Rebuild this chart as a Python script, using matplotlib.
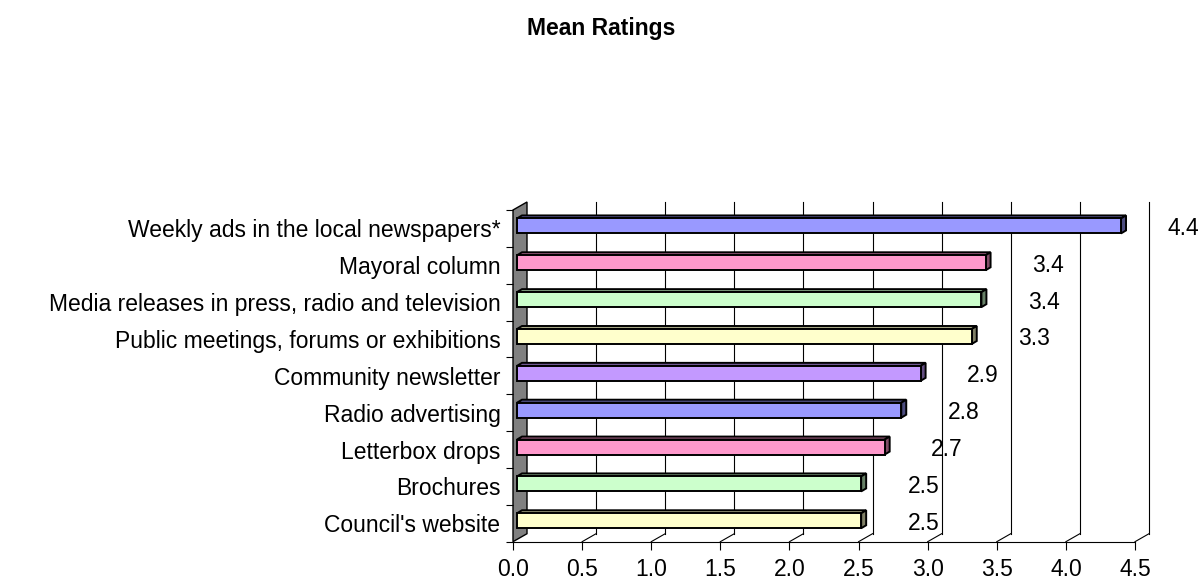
import matplotlib
matplotlib.use("Agg")
import matplotlib.pyplot as plt
from matplotlib.patches import Polygon
import numpy as np

plt.rcParams['font.family'] = ['Liberation Sans', 'DejaVu Sans']

title = "Mean Ratings"
categories = [
    "Weekly ads in the local newspapers*",
    "Mayoral column",
    "Media releases in press, radio and television",
    "Public meetings, forums or exhibitions",
    "Community newsletter",
    "Radio advertising",
    "Letterbox drops",
    "Brochures",
    "Council's website",
]
values = [4.37, 3.39, 3.36, 3.29, 2.92, 2.78, 2.66, 2.49, 2.49]
bar_colors = ["#9999FF", "#FF99CC", "#CCFFCC", "#FFFFCC", "#C399FF",
              "#9999FF", "#FF99CC", "#CCFFCC", "#FFFFCC"]
xticks = [0.0, 0.5, 1.0, 1.5, 2.0, 2.5, 3.0, 3.5, 4.0, 4.5]

W, H = 1203, 581
fig = plt.figure(figsize=(W / 100, H / 100), dpi=100)
FS = 16.5

# front plane in pixels
x0p, x1p = 513, 1135
ybot, ytop = 541.7, 210
ax = fig.add_axes([x0p / W, (H - ybot) / H, (x1p - x0p) / W, (ybot - ytop) / H])
n = len(categories)
ax.set_xlim(0, 4.5)
ax.set_ylim(0, n)

pxu = (x1p - x0p) / 4.5
pyu = (ybot - ytop) / n
# depth offsets (data units)
dx, dy = 14 / pxu, 8 / pyu
ox, oy = 4 / pxu, 2.5 / pyu
bx, by = 5 / pxu, 3 / pyu
bh = 15 / pyu


def shade(c, f):
    r, g, b = matplotlib.colors.to_rgb(c)
    return (r * f, g * f, b * f)


# side wall
ax.add_patch(Polygon([(0, 0), (0, n), (dx, n + dy), (dx, dy)], closed=True,
                     facecolor="#808080", edgecolor="black", lw=1.0,
                     clip_on=False, zorder=1))
# back gridlines and floor slants
for xt in xticks[1:]:
    ax.plot([xt + dx, xt + dx], [dy, n + dy], color="black", lw=0.8,
            clip_on=False, zorder=1)
    ax.plot([xt, xt + dx], [0, dy], color="black", lw=0.8,
            clip_on=False, zorder=1)

# bars
for i, (v, c) in enumerate(zip(values, bar_colors)):
    yc = n - (i + 0.5)
    b = yc - bh / 2 + oy
    t = yc + bh / 2 + oy
    L = ox
    R = ox + v
    front = Polygon([(L, b), (R, b), (R, t), (L, t)], closed=True,
                    facecolor=c, edgecolor="black", lw=1.4, clip_on=False,
                    zorder=3, joinstyle="miter")
    top = Polygon([(L, t), (R, t), (R + bx, t + by), (L + bx, t + by)],
                  closed=True, facecolor=shade(c, 0.65), edgecolor="black",
                  lw=1.4, clip_on=False, zorder=2, joinstyle="miter")
    side = Polygon([(R, b), (R + bx, b + by), (R + bx, t + by), (R, t)],
                   closed=True, facecolor=shade(c, 0.5), edgecolor="black",
                   lw=1.4, clip_on=False, zorder=2, joinstyle="miter")
    ax.add_patch(top)
    ax.add_patch(side)
    ax.add_patch(front)
    ax.text(R + 0.45, yc, f"{v:.1f}", ha="center", va="center",
            fontsize=FS, color="black", zorder=4)

# axes styling
for s in ("top", "right", "left"):
    ax.spines[s].set_visible(False)
ax.spines["bottom"].set_linewidth(0.8)
ax.set_xticks(xticks)
ax.set_xticklabels([f"{x:.1f}" for x in xticks], fontsize=FS)
ax.tick_params(axis="x", direction="out", length=6, width=0.8, pad=6)
ax.set_yticks(np.arange(0, n + 1))
ax.set_yticklabels([""] * (n + 1))
ax.tick_params(axis="y", which="major", direction="out", length=5, width=0.8)
ax.set_yticks([n - (i + 0.5) for i in range(n)], minor=True)
ax.set_yticklabels(categories, minor=True, fontsize=FS)
ax.tick_params(axis="y", which="minor", length=0, pad=9)
ax.set_facecolor("none")

fig.text(601 / W, 1 - 28 / H, title, ha="center", va="center",
         fontsize=FS, fontweight="bold")

fig.savefig("out.png", dpi=100)
